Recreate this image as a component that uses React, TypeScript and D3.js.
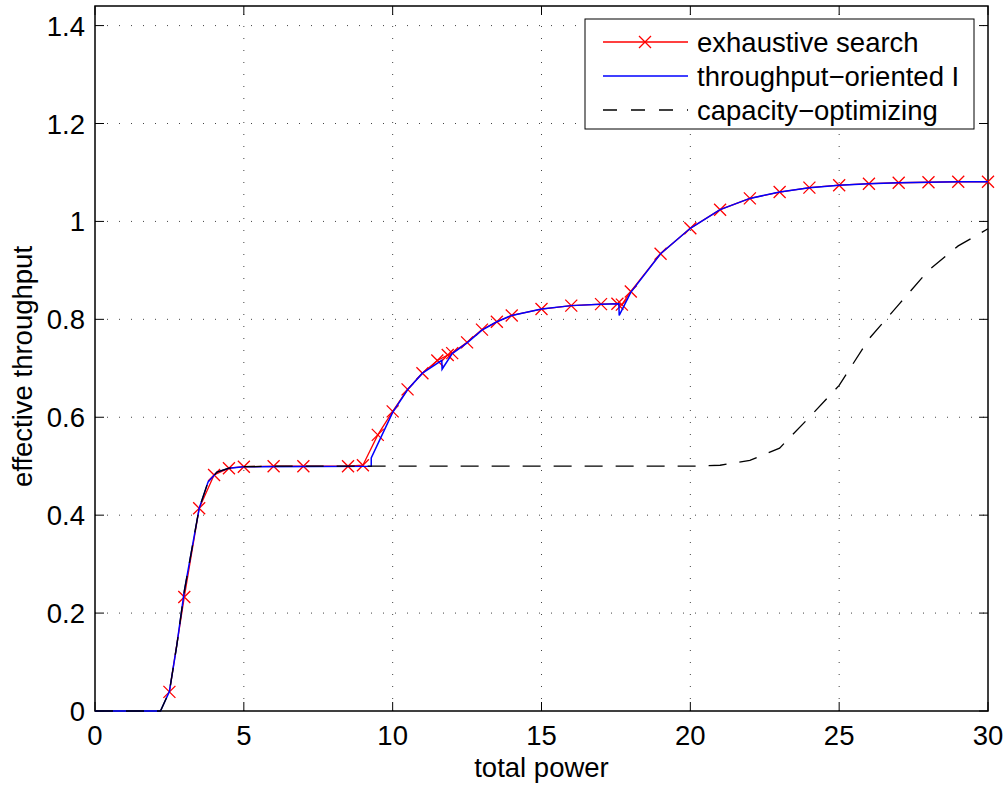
import React from "react";
import * as d3 from "d3";

/* exhaustive search (red, x markers) */
const exX = [2.5, 3, 3.5, 4, 4.5, 5, 6, 7, 8.5, 9, 9.5, 10, 10.5, 11, 11.5, 11.85, 12, 12.5, 13, 13.5, 14, 15, 16, 17, 17.55, 17.7, 18, 19, 20, 21, 22, 23, 24, 25, 26, 27, 28, 29, 30];
const exY = [0.039, 0.233, 0.414, 0.482, 0.496, 0.499, 0.5, 0.5, 0.5, 0.502, 0.564, 0.612, 0.657, 0.69, 0.716, 0.727, 0.731, 0.753, 0.779, 0.795, 0.808, 0.821, 0.828, 0.831, 0.832, 0.83, 0.857, 0.934, 0.986, 1.024, 1.047, 1.06, 1.069, 1.074, 1.077, 1.079, 1.08, 1.081, 1.081];

/* throughput-oriented I (blue) */
const toX = [0, 2.2, 2.5, 2.75, 3, 3.5, 3.8, 4.1, 4.5, 5, 9.28, 9.28, 10, 10.5, 11, 11.65, 11.66, 12, 12.5, 13, 13.5, 14, 15, 16, 17, 17.6, 17.61, 18, 19, 20, 21, 22, 23, 24, 25, 26, 27, 28, 29, 30];
const toY = [0, 0, 0.04, 0.135, 0.245, 0.414, 0.468, 0.488, 0.496, 0.499, 0.5, 0.517, 0.61, 0.656, 0.69, 0.716, 0.698, 0.73, 0.752, 0.778, 0.795, 0.808, 0.821, 0.828, 0.831, 0.832, 0.808, 0.855, 0.934, 0.986, 1.024, 1.047, 1.06, 1.069, 1.074, 1.077, 1.079, 1.08, 1.081, 1.081];

/* capacity-optimizing (black dashed) */
const coX = [0, 2.2, 2.5, 2.75, 3, 3.5, 3.8, 4.1, 4.5, 5, 6, 8, 10, 12, 14, 16, 18, 20, 21, 22, 23, 24, 25, 26, 27, 28, 29, 30];
const coY = [0, 0, 0.04, 0.135, 0.245, 0.414, 0.468, 0.488, 0.496, 0.499, 0.5, 0.5, 0.5, 0.5, 0.5, 0.5, 0.5, 0.5, 0.502, 0.512, 0.537, 0.6, 0.665, 0.76, 0.83, 0.9, 0.95, 0.985];

const xTicks = [0, 5, 10, 15, 20, 25, 30];
const yTicks = [0, 0.2, 0.4, 0.6, 0.8, 1, 1.2, 1.4];
const legendLabels = ["exhaustive search", "throughput\u2212oriented I", "capacity\u2212optimizing"];

const W = 1008;
const H = 787;
const M = { left: 95, right: 20, top: 6, bottom: 76 };
const FONT = "'Liberation Sans', Arial, Helvetica, sans-serif";
const FS = 27.5;

export default function App() {
  const x = d3.scaleLinear().domain([0, 30]).range([M.left, W - M.right]);
  const y = d3.scaleLinear().domain([0, 1.44]).range([H - M.bottom, M.top]);
  const [x0, x1] = x.range();
  const [y0, y1] = y.range();

  const line = d3
    .line<[number, number]>()
    .x((d) => x(d[0]))
    .y((d) => y(d[1]));

  const ex = exX.map((v, i) => [v, exY[i]] as [number, number]);
  const to = toX.map((v, i) => [v, toY[i]] as [number, number]);
  const co = coX.map((v, i) => [v, coY[i]] as [number, number]);

  const cross = "M-6,-6L6,6M-6,6L6,-6";
  const tick = 9;

  /* legend box */
  const lg = { x: 585, y: 19, w: 389, h: 110, row: 34 };

  return (
    <svg
      width={W}
      height={H}
      style={{ position: "absolute", left: 0, top: 0, background: "#fff" }}
      fontFamily={FONT}
    >
      {/* grid */}
      <g stroke="#444" strokeWidth={1} strokeDasharray="1,11">
        {xTicks.slice(1, -1).map((t) => (
          <line key={"gx" + t} x1={x(t)} x2={x(t)} y1={y0} y2={y1} />
        ))}
        {yTicks.slice(1).map((t) => (
          <line key={"gy" + t} x1={x0} x2={x1} y1={y(t)} y2={y(t)} />
        ))}
      </g>

      {/* ticks */}
      <g stroke="#000" strokeWidth={1}>
        {xTicks.map((t) => (
          <g key={"tx" + t}>
            <line x1={x(t)} x2={x(t)} y1={y0} y2={y0 - tick} />
            <line x1={x(t)} x2={x(t)} y1={y1} y2={y1 + tick} />
          </g>
        ))}
        {yTicks.map((t) => (
          <g key={"ty" + t}>
            <line x1={x0} x2={x0 + tick} y1={y(t)} y2={y(t)} />
            <line x1={x1} x2={x1 - tick} y1={y(t)} y2={y(t)} />
          </g>
        ))}
      </g>

      {/* frame */}
      <rect x={x0} y={y1} width={x1 - x0} height={y0 - y1} fill="none" stroke="#000" strokeWidth={1.5} />

      {/* series */}
      <path d={line(ex) || ""} fill="none" stroke="#ff0000" strokeWidth={1.3} />
      <g stroke="#ff0000" strokeWidth={1.3} fill="none">
        {ex.map((d, i) => (
          <path key={"m" + i} d={cross} transform={`translate(${x(d[0])},${y(d[1])})`} />
        ))}
      </g>
      <path d={line(to) || ""} fill="none" stroke="#0000ff" strokeWidth={1.5} />
      <path d={line(co) || ""} fill="none" stroke="#000" strokeWidth={1.3} strokeDasharray="18,13" />

      {/* tick labels */}
      <g fontSize={FS} fill="#000">
        {xTicks.map((t) => (
          <text key={"lx" + t} x={x(t)} y={y0 + 34} textAnchor="middle">
            {t}
          </text>
        ))}
        {yTicks.map((t) => (
          <text key={"ly" + t} x={x0 - 10} y={y(t) + 10} textAnchor="end">
            {t}
          </text>
        ))}
      </g>

      {/* axis labels */}
      <text x={(x0 + x1) / 2} y={777} textAnchor="middle" fontSize={FS}>
        total power
      </text>
      <text
        transform={`translate(32,${(y0 + y1) / 2 + 8}) rotate(-90)`}
        textAnchor="middle"
        fontSize={FS}
      >
        effective throughput
      </text>

      {/* legend */}
      <g>
        <rect x={lg.x} y={lg.y} width={lg.w} height={lg.h} fill="#fff" stroke="#000" strokeWidth={1} />
        {legendLabels.map((lab, i) => {
          const cy = lg.y + 23 + i * lg.row;
          const color = i === 0 ? "#ff0000" : i === 1 ? "#0000ff" : "#000";
          return (
            <g key={lab}>
              <line
                x1={lg.x + 18}
                x2={lg.x + 103}
                y1={cy}
                y2={cy}
                stroke={color}
                strokeWidth={1.3}
                strokeDasharray={i === 2 ? "14,14" : undefined}
              />
              {i === 0 && (
                <path d={cross} transform={`translate(${lg.x + 60},${cy})`} stroke={color} strokeWidth={1.3} />
              )}
              <text x={lg.x + 112} y={cy + 10} fontSize={FS}>
                {lab}
              </text>
            </g>
          );
        })}
      </g>
    </svg>
  );
}
